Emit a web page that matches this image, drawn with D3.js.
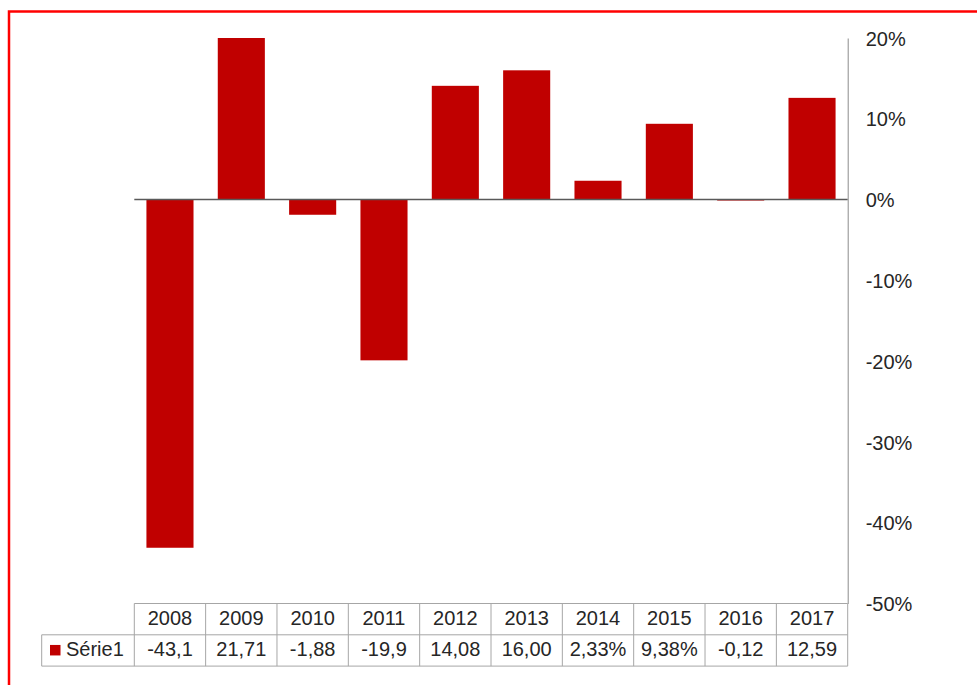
<!DOCTYPE html>
<html>
<head>
<meta charset="utf-8">
<script src="https://cdn.jsdelivr.net/npm/d3@7"></script>
<style>
  html, body { margin: 0; padding: 0; background: #fff; }
  svg { display: block; }
  text { font-family: "Liberation Sans", Arial, sans-serif; }
</style>
</head>
<body>
<svg id="chart" width="977" height="685"></svg>
<script>
const years = ["2008","2009","2010","2011","2012","2013","2014","2015","2016","2017"];
const values = [-43.1, 21.71, -1.88, -19.9, 14.08, 16.00, 2.33, 9.38, -0.12, 12.59];
const tableLabels = ["-43,1","21,71","-1,88","-19,9","14,08","16,00","2,33%","9,38%","-0,12","12,59"];
const seriesName = "Série1";
const yTicks = [20, 10, 0, -10, -20, -30, -40, -50];

(function () {
const svg = d3.select("#chart");
const W = 977, H = 685;
const pLeft = 134.3, pRight = 847.7;
const pTop = 38, pBottom = 603.5;
const rowH = 31.3;
const textColor = "#262626";
const gridColor = "#a6a6a6";
const barColor = "#c00000";
const fs = "20px";

// outer red border
svg.append("rect")
  .attr("x", 9).attr("y", 11.5)
  .attr("width", W + 20).attr("height", H + 20)
  .attr("fill", "none").attr("stroke", "#ff0000").attr("stroke-width", 2.5);

const x = d3.scaleBand().domain(years).range([pLeft, pRight]).paddingInner(0.34).paddingOuter(0.17);
const xCell = d3.scaleBand().domain(years).range([pLeft, pRight]).padding(0);
const y = d3.scaleLinear().domain([-50, 20]).range([pBottom, pTop]);

svg.append("clipPath").attr("id", "plotClip")
  .append("rect").attr("x", pLeft).attr("y", pTop).attr("width", pRight - pLeft).attr("height", pBottom - pTop);

svg.append("g").attr("clip-path", "url(#plotClip)")
  .selectAll("rect.bar").data(values).join("rect")
  .attr("class", "bar")
  .attr("x", (d, i) => x(years[i]))
  .attr("width", x.bandwidth())
  .attr("y", d => y(Math.max(0, d)))
  .attr("height", d => Math.abs(y(d) - y(0)))
  .attr("fill", barColor);

// zero line
svg.append("line")
  .attr("x1", pLeft).attr("x2", pRight)
  .attr("y1", y(0)).attr("y2", y(0))
  .attr("stroke", "#595959").attr("stroke-width", 1.5);

// right axis
const axis = d3.axisRight(y).tickValues(yTicks).tickFormat(d => d + "%")
  .tickSizeInner(0).tickSizeOuter(0).tickPadding(18);
const ag = svg.append("g").attr("transform", `translate(${pRight},0)`).call(axis);
ag.select(".domain").attr("stroke", "#8c8c8c").attr("stroke-width", 1);
ag.selectAll("text").attr("fill", textColor).style("font-size", fs)
  .style("font-family", "'Liberation Sans', Arial, sans-serif").attr("dy", "0.36em");

// data table
const tg = svg.append("g");
const tTop = pBottom, tMid = pBottom + rowH, tBot = pBottom + 2 * rowH;
const legLeft = 41.7;
tg.append("line").attr("x1", pLeft).attr("x2", pRight).attr("y1", tTop).attr("y2", tTop);
tg.append("line").attr("x1", legLeft).attr("x2", pRight).attr("y1", tMid).attr("y2", tMid);
tg.append("line").attr("x1", legLeft).attr("x2", pRight).attr("y1", tBot).attr("y2", tBot);
tg.append("line").attr("x1", legLeft).attr("x2", legLeft).attr("y1", tMid).attr("y2", tBot);
tg.selectAll("line.v").data(years).join("line").attr("class", "v")
  .attr("x1", d => xCell(d)).attr("x2", d => xCell(d))
  .attr("y1", tTop).attr("y2", tBot);
tg.append("line").attr("x1", pRight).attr("x2", pRight).attr("y1", tTop).attr("y2", tBot);
tg.selectAll("line").attr("stroke", gridColor).attr("stroke-width", 1);

tg.selectAll("text.yr").data(years).join("text").attr("class", "yr")
  .attr("x", d => xCell(d) + xCell.bandwidth() / 2)
  .attr("y", tTop + rowH / 2).attr("dy", "0.3em")
  .attr("text-anchor", "middle").attr("fill", textColor).style("font-size", fs)
  .text(d => d);
tg.selectAll("text.val").data(tableLabels).join("text").attr("class", "val")
  .attr("x", (d, i) => xCell(years[i]) + xCell.bandwidth() / 2)
  .attr("y", tMid + rowH / 2).attr("dy", "0.3em")
  .attr("text-anchor", "middle").attr("fill", textColor).style("font-size", fs)
  .text(d => d);
tg.append("rect").attr("x", 50).attr("y", tMid + rowH / 2 - 5.5).attr("width", 10.5).attr("height", 10.5).attr("fill", barColor);
tg.append("text").attr("x", 66).attr("y", tMid + rowH / 2).attr("dy", "0.3em")
  .attr("fill", textColor).style("font-size", fs).text(seriesName);
})();
</script>
</body>
</html>
